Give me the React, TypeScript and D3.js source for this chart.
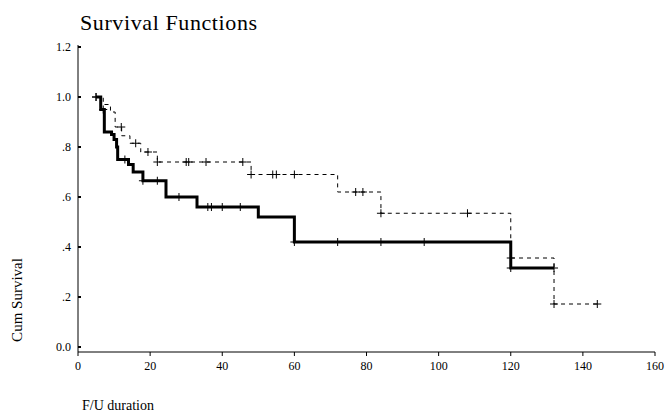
import React from "react";
import * as d3 from "d3";

const xTicks = [0, 20, 40, 60, 80, 100, 120, 140, 160];
const yTicks = [0, 0.2, 0.4, 0.6, 0.8, 1.0, 1.2];
const yTickLabels = ["0.0", ".2", ".4", ".6", ".8", "1.0", "1.2"];

// [time, survival] steps
const solidSteps: [number, number][] = [
  [5, 1.0], [6.3, 0.95], [7.3, 0.86], [9.3, 0.85], [10, 0.83], [10.7, 0.8], [11, 0.75],
  [14, 0.73], [15.3, 0.7], [18, 0.665], [24.4, 0.6], [33, 0.56], [50, 0.52], [60, 0.42],
  [120, 0.316],
];
const solidEnd = 132;
const solidCensor = [5, 7, 13, 18, 22, 28, 36, 37, 40, 45, 60, 72, 84, 96, 120, 132];

const dashSteps: [number, number][] = [
  [5, 1.0], [7, 0.97], [9, 0.94], [10.3, 0.88], [12.1, 0.845], [14.4, 0.815], [17.4, 0.78],
  [22, 0.74], [48, 0.69], [72, 0.62], [84, 0.535], [120, 0.356], [132, 0.172],
];
const dashEnd = 144;
const dashCensor = [5, 12, 16, 19.4, 22, 30, 30.7, 35.5, 45.7, 48, 54, 55, 60, 77, 79, 84, 108, 120, 132, 144];

const x = d3.scaleLinear().domain([0, 160]).range([78, 655]);
const y = d3.scaleLinear().domain([0, 1.2]).range([347, 47]);

function stepPath(steps: [number, number][], end: number) {
  const pts: [number, number][] = steps.map((s) => [s[0], s[1]]);
  pts.push([end, steps[steps.length - 1][1]]);
  return d3.line<[number, number]>().x((d) => x(d[0])).y((d) => y(d[1])).curve(d3.curveStepAfter)(pts) || "";
}
function survAt(steps: [number, number][], t: number) {
  let v = steps[0][1];
  for (const s of steps) if (s[0] <= t) v = s[1];
  return v;
}

export default function App() {
  const font = "Liberation Serif, Times New Roman, serif";
  return (
    <svg width={670} height={419} style={{ display: "block", position: "absolute", left: 0, top: 0 }} fontFamily={font}>
      <rect x={0} y={0} width={670} height={419} fill="#fff" />
      <text x={80} y={30} fontSize={22} letterSpacing={0.6}>Survival Functions</text>
      <line x1={78} x2={78} y1={45} y2={352} stroke="#000" />
      <line x1={78} x2={655} y1={352} y2={352} stroke="#000" />
      {yTicks.map((t, i) => (
        <g key={t}>
          <line x1={78} x2={81} y1={y(t)} y2={y(t)} stroke="#000" strokeWidth={2} />
          <text x={71} y={y(t) + 4} fontSize={12} textAnchor="end">{yTickLabels[i]}</text>
        </g>
      ))}
      {xTicks.map((t) => (
        <g key={t}>
          <line x1={x(t)} x2={x(t)} y1={352} y2={356} stroke="#000" />
          <text x={x(t)} y={370} fontSize={12} textAnchor="middle">{t}</text>
        </g>
      ))}
      <text transform="translate(22,300) rotate(-90)" fontSize={15} textAnchor="middle">Cum Survival</text>
      <text x={82} y={410} fontSize={14}>F/U duration</text>
      <path d={stepPath(dashSteps, dashEnd)} fill="none" stroke="#000" strokeWidth={1} strokeDasharray="4,4" />
      {dashCensor.map((t, i) => {
        const v = survAt(dashSteps, t);
        return <path key={i} d={`M${x(t) - 4},${y(v)}h8M${x(t)},${y(v) - 4}v8`} stroke="#000" strokeWidth={1} />;
      })}
      <path d={stepPath(solidSteps, solidEnd)} fill="none" stroke="#000" strokeWidth={3} />
      {solidCensor.map((t, i) => {
        const v = survAt(solidSteps, t);
        return <path key={i} d={`M${x(t) - 4},${y(v)}h8M${x(t)},${y(v) - 4}v8`} stroke="#000" strokeWidth={1} />;
      })}
    </svg>
  );
}
